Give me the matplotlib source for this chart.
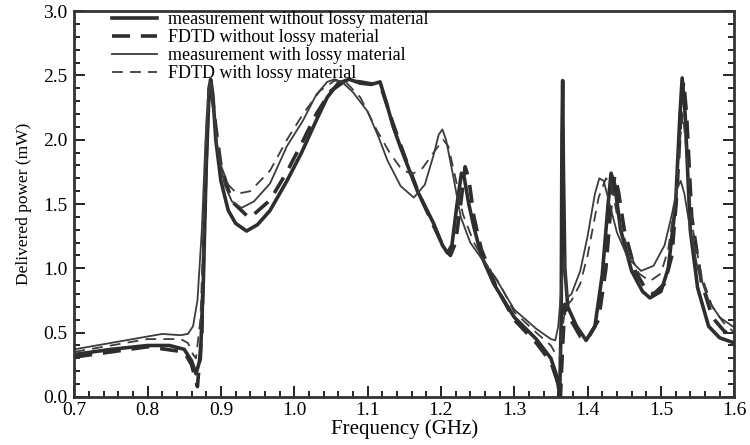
import matplotlib
matplotlib.use('Agg')
import matplotlib.pyplot as plt
from matplotlib.ticker import MultipleLocator

plt.rcParams['font.family'] = ['Liberation Serif', 'DejaVu Serif']

# measurement without lossy material
f_meas_no = [0.70, 0.75, 0.80, 0.83, 0.85, 0.86, 0.866, 0.872, 0.876, 0.880, 0.884, 0.886, 0.889, 0.893,
             0.90, 0.91, 0.92, 0.935, 0.95, 0.967, 0.99, 1.01, 1.03, 1.045, 1.06, 1.075, 1.09, 1.105, 1.117,
             1.125, 1.135, 1.145, 1.168, 1.19, 1.202, 1.209, 1.215, 1.222, 1.228, 1.232, 1.238, 1.245,
             1.255, 1.272, 1.30, 1.33, 1.35, 1.357, 1.362, 1.364, 1.365, 1.366, 1.367, 1.369, 1.373, 1.385,
             1.398, 1.41, 1.42, 1.428, 1.432, 1.437, 1.445, 1.46, 1.475, 1.485, 1.50, 1.51, 1.52, 1.526,
             1.529, 1.533, 1.54, 1.55, 1.565, 1.58, 1.60]
p_meas_no = [0.33, 0.37, 0.40, 0.40, 0.37, 0.28, 0.18, 0.30, 0.90, 1.80, 2.40, 2.47, 2.35, 2.00,
             1.68, 1.45, 1.35, 1.29, 1.34, 1.45, 1.68, 1.90, 2.15, 2.33, 2.44, 2.47, 2.44, 2.43, 2.45,
             2.30, 2.10, 1.94, 1.60, 1.35, 1.18, 1.12, 1.18, 1.50, 1.74, 1.70, 1.50, 1.32,
             1.10, 0.88, 0.62, 0.45, 0.30, 0.18, 0.02, 0.60, 2.00, 2.46, 1.80, 1.00, 0.70, 0.55,
             0.44, 0.55, 0.95, 1.50, 1.74, 1.65, 1.30, 0.98, 0.82, 0.77, 0.82, 1.00, 1.50, 2.20,
             2.48, 2.20, 1.30, 0.85, 0.55, 0.46, 0.42]

# FDTD without lossy material
f_fdtd_no = [0.70, 0.80, 0.85, 0.86, 0.868, 0.874, 0.878, 0.882, 0.885, 0.888, 0.893, 0.90, 0.915,
             0.939, 0.967, 0.99, 1.01, 1.03, 1.05, 1.07, 1.09, 1.11, 1.12, 1.135, 1.15, 1.17, 1.19,
             1.205, 1.213, 1.22, 1.228, 1.233, 1.238, 1.245, 1.255, 1.275, 1.30, 1.33, 1.35, 1.36,
             1.363, 1.366, 1.369, 1.375, 1.39, 1.40, 1.415, 1.425, 1.432, 1.437, 1.442, 1.45, 1.465,
             1.48, 1.49, 1.505, 1.515, 1.522, 1.528, 1.531, 1.535, 1.542, 1.555, 1.57, 1.585, 1.60]
p_fdtd_no = [0.31, 0.39, 0.35, 0.25, 0.08, 0.50, 1.50, 2.20, 2.45, 2.35, 2.10, 1.80, 1.52,
             1.39, 1.53, 1.75, 1.97, 2.20, 2.38, 2.46, 2.45, 2.43, 2.38, 2.12, 1.88, 1.58, 1.33,
             1.15, 1.10, 1.20, 1.55, 1.79, 1.70, 1.40, 1.15, 0.86, 0.60, 0.42, 0.27, 0.10,
             0.00, 0.40, 0.72, 0.62, 0.47, 0.45, 0.60, 1.00, 1.50, 1.72, 1.60, 1.30, 0.98,
             0.83, 0.80, 0.88, 1.10, 1.60, 2.30, 2.45, 2.20, 1.40, 0.90, 0.62, 0.52, 0.45]

# measurement with lossy material
f_meas_loss = [0.70, 0.75, 0.80, 0.82, 0.845, 0.855, 0.862, 0.868, 0.874, 0.879, 0.883, 0.886, 0.889,
               0.895, 0.905, 0.915, 0.928, 0.945, 0.967, 0.99, 1.012, 1.03, 1.045, 1.055, 1.065, 1.08,
               1.10, 1.115, 1.127, 1.145, 1.163, 1.178, 1.19, 1.197, 1.202, 1.207, 1.217, 1.227, 1.24,
               1.255, 1.275, 1.30, 1.33, 1.35, 1.356, 1.36, 1.365, 1.368, 1.372, 1.378, 1.39, 1.40,
               1.41, 1.416, 1.422, 1.43, 1.44, 1.455, 1.473, 1.49, 1.505, 1.515, 1.522, 1.527, 1.532,
               1.54, 1.55, 1.565, 1.58, 1.60]
p_meas_loss = [0.37, 0.42, 0.47, 0.49, 0.48, 0.49, 0.55, 0.75, 1.30, 2.00, 2.40, 2.45, 2.30,
               1.95, 1.65, 1.52, 1.47, 1.52, 1.66, 1.95, 2.15, 2.35, 2.45, 2.47, 2.45, 2.37,
               2.22, 2.02, 1.84, 1.64, 1.55, 1.65, 1.88, 2.04, 2.08, 2.00, 1.71, 1.40, 1.20,
               1.08, 0.92, 0.68, 0.53, 0.45, 0.44, 0.55, 0.90, 1.10, 0.77, 0.80, 0.98, 1.25,
               1.58, 1.70, 1.68, 1.50, 1.28, 1.08, 0.98, 1.02, 1.18, 1.42, 1.62, 1.68, 1.58,
               1.30, 1.00, 0.75, 0.62, 0.54]

# FDTD with lossy material
f_fdtd_loss = [0.70, 0.80, 0.845, 0.855, 0.862, 0.866, 0.872, 0.877, 0.881, 0.885, 0.888, 0.893, 0.90,
               0.91, 0.922, 0.94, 0.967, 0.99, 1.012, 1.035, 1.055, 1.07, 1.09, 1.113, 1.13, 1.145,
               1.16, 1.175, 1.19, 1.203, 1.21, 1.22, 1.23, 1.245, 1.26, 1.28, 1.30, 1.33, 1.35, 1.357,
               1.362, 1.366, 1.37, 1.378, 1.39, 1.40, 1.415, 1.425, 1.432, 1.44, 1.455, 1.47, 1.485,
               1.50, 1.51, 1.52, 1.526, 1.53, 1.535, 1.542, 1.555, 1.57, 1.585, 1.60]
p_fdtd_loss = [0.35, 0.45, 0.45, 0.42, 0.33, 0.30, 0.60, 1.40, 2.10, 2.42, 2.35, 2.05, 1.80,
               1.65, 1.58, 1.60, 1.76, 2.00, 2.20, 2.38, 2.46, 2.45, 2.33, 2.07, 1.90, 1.78,
               1.73, 1.78, 1.90, 2.00, 1.95, 1.70, 1.42, 1.20, 1.05, 0.88, 0.66, 0.50, 0.40, 0.33,
               0.30, 0.55, 0.70, 0.75, 0.88, 1.10, 1.55, 1.70, 1.66, 1.42, 1.15, 0.96, 0.90,
               0.96, 1.15, 1.55, 2.00, 2.20, 1.90, 1.35, 0.95, 0.70, 0.58, 0.50]

fig = plt.figure(figsize=(7.5, 4.45), dpi=100)
ax = fig.add_axes([0.099, 0.108, 0.88, 0.867])

dark = '#2e2e2e'
ax.plot(f_meas_no, p_meas_no, color=dark, lw=2.6, label='measurement without lossy material')
ax.plot(f_fdtd_no, p_fdtd_no, color=dark, lw=2.6, dashes=(5, 3), label='FDTD without lossy material')
ax.plot(f_meas_loss, p_meas_loss, color='#3c3c3c', lw=1.3, label='measurement with lossy material')
ax.plot(f_fdtd_loss, p_fdtd_loss, color='#3c3c3c', lw=1.3, dashes=(6, 4), label='FDTD with lossy material')

ax.set_xlim(0.7, 1.6)
ax.set_ylim(0.0, 3.0)
ax.xaxis.set_major_locator(MultipleLocator(0.1))
ax.xaxis.set_minor_locator(MultipleLocator(0.02))
ax.yaxis.set_major_locator(MultipleLocator(0.5))
ax.yaxis.set_minor_locator(MultipleLocator(0.1))
ax.xaxis.set_major_formatter(plt.FormatStrFormatter('%.1f'))
ax.yaxis.set_major_formatter(plt.FormatStrFormatter('%.1f'))
ax.tick_params(which='both', direction='in', right=True, top=False, labelsize=14, width=1.2)
ax.tick_params(which='major', length=8)
ax.tick_params(axis='x', which='major', pad=4)
ax.tick_params(axis='y', which='major', pad=5)
ax.tick_params(which='minor', length=4)
for s in ax.spines.values():
    s.set_linewidth(2)
    s.set_color('#333333')

ax.set_xlabel('Frequency (GHz)', fontsize=15, labelpad=0)
ax.set_ylabel('Delivered power (mW)', fontsize=12.5, labelpad=8)

ax.legend(loc='upper left', bbox_to_anchor=(0.0576, 1.0), frameon=False, fontsize=13,
          handlelength=2.5, handletextpad=0.6, labelspacing=0.06, borderpad=0, borderaxespad=0)

fig.savefig('out.png', dpi=100)
